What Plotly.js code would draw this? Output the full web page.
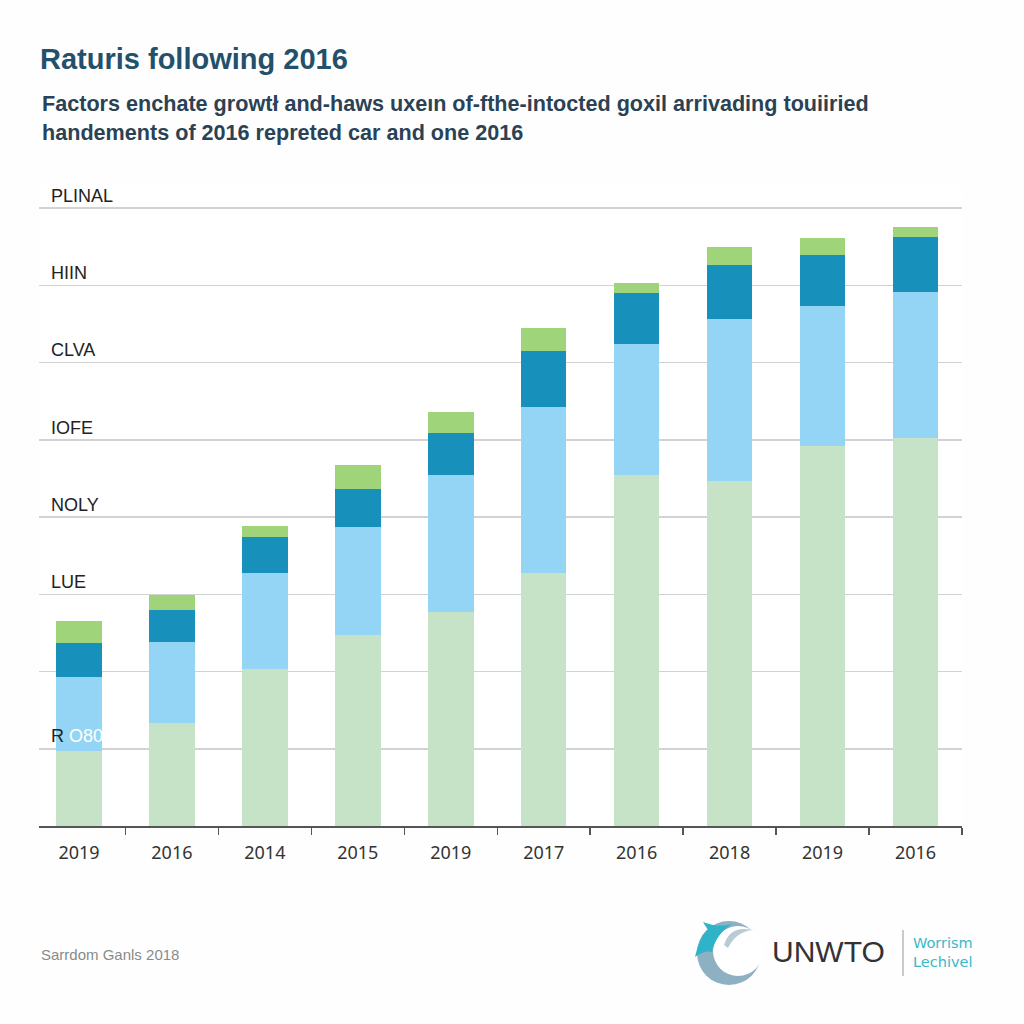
<!DOCTYPE html>
<html>
<head>
<meta charset="utf-8">
<script src="https://cdn.plot.ly/plotly-3.0.1.min.js"></script>
<style>html,body{margin:0;padding:0;background:#fefefe;}#chart{width:1024px;height:1024px;}</style>
</head>
<body>
<div id="chart"></div>
<script>
// ---- data ----
const categories = ['2019','2016','2014','2015','2019','2017','2016','2018','2019','2016'];
const baseSeries   = [0.97, 1.33, 2.03, 2.47, 2.77, 3.28, 4.54, 4.47, 4.92, 5.03];
const secondSeries = [0.96, 1.05, 1.25, 1.40, 1.77, 2.14, 1.70, 2.10, 1.81, 1.88];
const thirdSeries  = [0.44, 0.42, 0.46, 0.50, 0.55, 0.73, 0.66, 0.69, 0.67, 0.72];
const topSeries    = [0.29, 0.19, 0.15, 0.31, 0.27, 0.30, 0.13, 0.24, 0.21, 0.13];
const yTickValues = [1, 2, 3, 4, 5, 6, 7, 8];
const yTickLabels = ['R <span style="color:#ffffff">O80</span>', '', 'LUE', 'NOLY', 'IOFE', 'CLVA', 'HIIN', 'PLINAL'];
const titleText = 'Raturis following 2016';
const subtitleLines = ['Factors enchate growtł and-haws uxeın of-fthe-intocted goxil arrivading touiiried',
                       'handements of 2016 repreted car and one 2016'];
const sourceText = 'Sarrdom Ganls 2018';
const logoText = 'UNWTO';
const logoSubLines = ['Worrism', 'Lechivel'];

// ---- layout geometry ----
const W = 1024, H = 1024, L = 39, R = 62, T = 185, B = 198;
const pw = W - L - R, ph = H - T - B;
const px = x => (x - L) / pw;
const py = y => (H - B - y) / ph;

const xIdx = categories.map((_, i) => i);
const boundaries = categories.map((_, i) => i + 0.5);

const colors = ['#c6e3c8', '#94d5f6', '#1791bc', '#9fd47a'];
const seriesList = [baseSeries, secondSeries, thirdSeries, topSeries];
const traces = seriesList.map((s, k) => ({
  type: 'bar', x: xIdx, y: s, marker: {color: colors[k], line: {width: 0}},
  width: 0.49, hoverinfo: 'skip', showlegend: false
}));

const P = (x, y) => px(x).toFixed(5) + ',' + py(y).toFixed(5);

const shapes = [
  {type: 'circle', xref: 'paper', yref: 'paper', x0: px(697), x1: px(761), y0: py(985), y1: py(921),
   fillcolor: '#8db1c2', line: {width: 0}},
  {type: 'circle', xref: 'paper', yref: 'paper', x0: px(713), x1: px(763), y0: py(976), y1: py(926),
   fillcolor: '#ffffff', line: {width: 0}},
  {type: 'path', xref: 'paper', yref: 'paper',
   path: 'M' + P(724, 945) + ' Q' + P(730, 925) + ' ' + P(752, 930) + ' Q' + P(736, 932) + ' ' + P(728, 948) + ' Z',
   fillcolor: '#b9ccd6', line: {width: 0}},
  {type: 'path', xref: 'paper', yref: 'paper',
   path: 'M' + P(695, 957) + ' Q' + P(700, 935) + ' ' + P(708, 930) + ' L' + P(703, 922) +
         ' Q' + P(718, 928) + ' ' + P(732, 924) + ' Q' + P(716, 934) + ' ' + P(712, 952) + ' Q' + P(705, 950) + ' ' + P(695, 957) + ' Z',
   fillcolor: '#2fb3c8', line: {width: 0}},
  {type: 'line', xref: 'paper', yref: 'paper', x0: px(903), x1: px(903), y0: py(930), y1: py(976),
   line: {color: '#b8b8b8', width: 1.5}}
];

const annotations = [
  {xref: 'paper', yref: 'paper', x: px(40), y: py(104), xanchor: 'left', yanchor: 'middle', showarrow: false,
   text: subtitleLines[0], font: {family: 'Liberation Sans, Arial, sans-serif', size: 21.6, color: '#2a4254', weight: 'bold'}},
  {xref: 'paper', yref: 'paper', x: px(40), y: py(132), xanchor: 'left', yanchor: 'middle', showarrow: false,
   text: subtitleLines[1], font: {family: 'Liberation Sans, Arial, sans-serif', size: 21.6, color: '#2a4254', weight: 'bold'}},
  {xref: 'paper', yref: 'paper', x: px(39), y: py(954), xanchor: 'left', yanchor: 'middle', showarrow: false,
   text: sourceText, font: {family: 'Liberation Sans, Arial, sans-serif', size: 15, color: '#8a8a8a'}},
  {xref: 'paper', yref: 'paper', x: px(770), y: py(951), xanchor: 'left', yanchor: 'middle', showarrow: false,
   text: logoText, font: {family: 'Liberation Sans, Arial, sans-serif', size: 30, color: '#333333'}},
  {xref: 'paper', yref: 'paper', x: px(911), y: py(943), xanchor: 'left', yanchor: 'middle', showarrow: false,
   text: logoSubLines[0], font: {family: 'DejaVu Sans, sans-serif', size: 14.5, color: '#3ab8cb'}},
  {xref: 'paper', yref: 'paper', x: px(911), y: py(962), xanchor: 'left', yanchor: 'middle', showarrow: false,
   text: logoSubLines[1], font: {family: 'DejaVu Sans, sans-serif', size: 14.5, color: '#3ab8cb'}}
];

const labelStandoff = 6;
const layout = {
  width: W, height: H,
  margin: {l: L, r: R, t: T, b: B, pad: 0},
  paper_bgcolor: '#fefefe', plot_bgcolor: '#ffffff',
  barmode: 'stack', showlegend: false,
  title: {text: titleText, xref: 'container', yref: 'container', x: 40 / W, xanchor: 'left',
          y: 1 - 59 / H, yanchor: 'middle',
          font: {family: 'Liberation Sans, Arial, sans-serif', size: 29, color: '#23506b', weight: 'bold'}},
  xaxis: {
    range: [-0.43, 9.5], tickmode: 'array', tickvals: xIdx, ticktext: categories,
    ticks: '', showgrid: false, zeroline: false, showline: true, linecolor: '#555555', linewidth: 2,
    tickfont: {family: 'Noto Sans, sans-serif', size: 18, color: '#333333'}, ticklabelstandoff: 9,
    minor: {tickmode: 'array', tickvals: boundaries, ticks: 'outside', ticklen: 7, tickwidth: 1.5, tickcolor: '#555555', showgrid: false},
    fixedrange: true
  },
  yaxis: {
    range: [0, 8.3], tickmode: 'array', tickvals: yTickValues, showticklabels: false,
    ticks: '', showgrid: true, gridcolor: '#d2d2d2', gridwidth: 1.5, zeroline: false, showline: false,
    fixedrange: true
  },
  yaxis2: {
    overlaying: 'y', anchor: 'free', position: px(50 - labelStandoff), side: 'right',
    range: [0, 8.3], tickmode: 'array', tickvals: yTickValues, ticktext: yTickLabels,
    ticks: '', showgrid: false, zeroline: false, showline: false,
    ticklabelposition: 'outside top', ticklabelstandoff: labelStandoff,
    tickfont: {family: 'Liberation Sans, Arial, sans-serif', size: 18, color: '#222222'},
    fixedrange: true
  },
  shapes: shapes,
  annotations: annotations
};

// invisible helper trace so the label axis is drawn
traces.push({type: 'scatter', x: [0], y: [0], yaxis: 'y2', mode: 'markers',
             marker: {opacity: 0}, hoverinfo: 'skip', showlegend: false});

Plotly.newPlot('chart', traces, layout, {displayModeBar: false, staticPlot: true});
</script>
</body>
</html>
